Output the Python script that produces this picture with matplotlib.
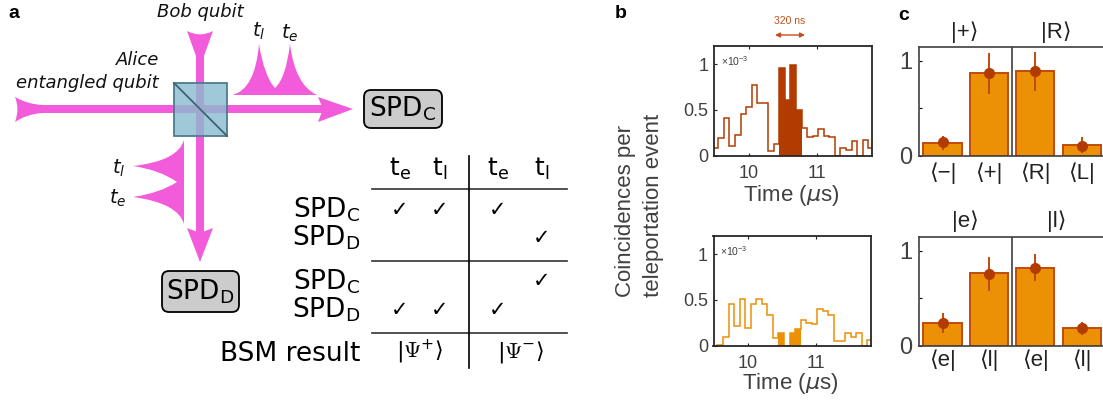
import numpy as np
import matplotlib
matplotlib.use('Agg')
import matplotlib.pyplot as plt
from matplotlib.patches import PathPatch, Polygon, Rectangle, FancyBboxPatch
from matplotlib.path import Path

plt.rcParams['font.family'] = ['DejaVu Sans']
plt.rcParams['mathtext.default'] = 'regular'

W, H = 1103, 401
ARIAL = ['Liberation Sans', 'DejaVu Sans']
PINK = '#F25BD9'
DARK = '#B23C00'
ORANGE = '#EC9006'
BAR_EDGE = '#C04A0C'
GRAY = '#404040'

# histogram data, panel b (units of 1e-3)
bin_start = 9.467
bin_width = 0.0817
hist_top = [0.08, 0.19, 0.41, 0.11, 0.23, 0.46, 0.53, 0.77, 0.58, 0.58, 0.05, 0.13,
            0.96, 0.61, 0.99, 0.50,
            0.30, 0.20, 0.21, 0.29, 0.22, 0.20, 0.0, 0.08, 0.06, 0.16, 0.0, 0.17, 0.08]
hist_bottom = [0.0, 0.01, 0.09, 0.46, 0.22, 0.51, 0.19, 0.46, 0.51, 0.46, 0.33, 0.08,
               0.14, 0.0, 0.14, 0.18,
               0.28, 0.25, 0.24, 0.40, 0.38, 0.33, 0.05, 0.05, 0.14, 0.09, 0.14, 0.0, 0.06]
window = (12, 16)

# bar data, panel c
labels_top = ['⟨−|', '⟨+|', '⟨R|', '⟨L|']
bars_top = [0.137, 0.874, 0.895, 0.112]
points_top = [0.14, 0.867, 0.89, 0.105]
err_low_top = [0.06, 0.649, 0.684, 0.03]
err_high_top = [0.207, 1.084, 1.095, 0.193]

labels_bottom = ['⟨e|', '⟨l|', '⟨e|', '⟨l|']
bars_bottom = [0.242, 0.765, 0.82, 0.186]
points_bottom = [0.235, 0.758, 0.814, 0.182]
err_low_bottom = [0.137, 0.579, 0.677, 0.112]
err_high_bottom = [0.347, 0.937, 0.961, 0.253]

fig = plt.figure(figsize=(W / 100, H / 100), dpi=100)


def axes_px(left, top, right, bottom):
    return fig.add_axes([left / W, 1 - bottom / H, (right - left) / W, (bottom - top) / H])


def fill_path(ax, verts, codes, color, z=2):
    ax.add_patch(PathPatch(Path(verts, codes), fc=color, ec='none', zorder=z))


# ---------- overlay in pixel coordinates for panel a and the labels ----------
bg = fig.add_axes([0, 0, 1, 1])
bg.set_xlim(0, W)
bg.set_ylim(H, 0)
bg.axis('off')

M, L, C, Z = Path.MOVETO, Path.LINETO, Path.CURVE3, Path.CLOSEPOLY

# beams
bg.add_patch(Rectangle((35, 105), 290, 8, fc=PINK, ec='none', zorder=2))
bg.add_patch(Rectangle((196, 50), 8, 190, fc=PINK, ec='none', zorder=2))
# fletchings and heads
fill_path(bg, [(15, 97), (27, 104), (42, 105), (42, 113), (27, 114), (15, 122), (20, 109), (15, 97), (15, 97)],
          [M, C, C, L, C, C, C, C, Z], PINK)
bg.add_patch(Polygon([(318, 97), (353, 109), (318, 122), (323, 109)], fc=PINK, ec='none', zorder=2))
fill_path(bg, [(187, 31), (200, 38), (213, 31), (204, 56), (196, 56), (187, 31)],
          [M, C, C, L, L, L], PINK)
bg.add_patch(Polygon([(187, 228), (200, 233), (213, 228), (200, 262)], fc=PINK, ec='none', zorder=2))

# pulses, upper right
fill_path(bg, [(232, 95), (255, 90), (259, 44), (264, 76), (275, 88),
               (286, 78), (290, 44), (295, 85), (317, 95), (232, 95)],
          [M, C, C, C, C, C, C, C, C, L], PINK)
# pulses, lower left
fill_path(bg, [(184, 140), (178, 161), (133, 166), (160, 170), (177, 182),
               (160, 193), (133, 197), (178, 203), (184, 224), (184, 140)],
          [M, C, C, C, C, C, C, C, C, L], PINK)

# beam splitter
bg.add_patch(Rectangle((174, 83), 53, 53, fc='#9FC8D8', ec='none', zorder=3))
bg.add_patch(Rectangle((196, 83), 8, 53, fc='#9FA9CF', ec='none', zorder=3))
bg.add_patch(Rectangle((174, 105), 53, 8, fc='#9FA9CF', ec='none', zorder=3))
bg.add_patch(Rectangle((174, 83), 53, 53, fc='none', ec='#4E7C8E', lw=1.3, zorder=4))
bg.plot([174, 227], [83, 136], color='#3F6474', lw=1.3, zorder=4)

# detectors
for x0, x1, y0, y1, name in [(364, 442, 90, 128, 'C'), (162, 239, 271, 312, 'D')]:
    bg.add_patch(FancyBboxPatch((x0 + 6, y0 + 6), x1 - x0 - 12, y1 - y0 - 12, boxstyle='round,pad=6,rounding_size=7',
                                fc='#CCCCCC', ec='black', lw=1.3, zorder=3))
    bg.text((x0 + x1) / 2, (y0 + y1) / 2, 'SPD$_{%s}$' % name, fontsize=19, ha='center', va='center', zorder=4)

# diagram labels
it = dict(style='italic', fontsize=13, color='#111111')
bg.text(200, 12, 'Bob qubit', ha='center', va='center', **it)
bg.text(159, 60, 'Alice', ha='right', va='center', **it)
bg.text(159, 83, 'entangled qubit', ha='right', va='center', **it)
for x, y, s in [(259, 31, 'l'), (290, 33, 'e'), (119, 168, 'l'), (118, 198, 'e')]:
    bg.text(x, y, r'$\mathit{t_{%s}}$' % s, fontsize=14, ha='center', va='center', color='#111111')

# table
for y in (189, 261, 333):
    bg.plot([372, 567], [y, y], color='#333333', lw=1.2)
bg.plot([469, 469], [156, 368], color='black', lw=1.2)
columns = [400, 440, 498, 542]
for x, s in zip(columns, 'elel'):
    bg.text(x, 169, 't$_{%s}$' % s, fontsize=18, ha='center', va='center')
for y, s in [(217, 'C'), (245, 'D'), (289, 'C'), (317, 'D')]:
    bg.text(360, y, 'SPD$_{%s}$' % s, fontsize=19, ha='right', va='baseline')
checks = [(210, [0, 1, 2]), (238, [3]), (281, [3]), (310, [0, 1, 2])]
for y, cols in checks:
    for c in cols:
        bg.text(columns[c], y, '✓', fontsize=15, ha='center', va='center')
bg.text(360, 361, 'BSM result', fontsize=19, ha='right', va='baseline')
bg.text(420, 352, r'$|\mathrm{\Psi}^{+}\rangle$', fontsize=16, math_fontfamily='cm', ha='center', va='center')
bg.text(521, 352, r'$|\mathrm{\Psi}^{-}\rangle$', fontsize=16, math_fontfamily='cm', ha='center', va='center')

# panel letters
for x, y, s in [(14, 14, 'a'), (621, 14, 'b'), (904, 16, 'c')]:
    bg.text(x, y, s, family=ARIAL, fontsize=14, fontweight='bold', ha='center', va='center')

for x, s in [(626, 'Coincidences per'), (654, 'teleportation event')]:
    bg.text(x, 297, s, family=ARIAL, fontsize=16, color=GRAY, rotation=90, ha='center', va='bottom')

# ---------- panel b ----------
edges = bin_start + bin_width * np.arange(len(hist_top) + 1)


def hist_panel(box, values, color, xlabel_y):
    ax = axes_px(*box)
    ax.stairs(values, edges, color=color, lw=1.1, zorder=2)
    a, b = window
    ax.stairs(values[a:b], edges[a:b + 1], color=color, fill=True, lw=0, zorder=3)
    ax.set_xlim(9.49, 11.81)
    ax.set_ylim(0, 1.2)
    ax.set_xticks([10, 11])
    ax.set_yticks([0, 0.5, 1])
    ax.set_yticklabels(['0', '0.5', '1'])
    ax.tick_params(direction='in', length=2, width=0.8, top=True, labelsize=13, labelcolor=GRAY,
                   color='#222222', pad=4)
    ax.tick_params(axis='x', pad=7)
    for t in ax.get_xticklabels() + ax.get_yticklabels():
        t.set_family(ARIAL)
    for s in ax.spines.values():
        s.set_linewidth(1.3)
        s.set_color('#262626')
        s.set_zorder(5)
    ax.text(0.04, 0.86, r'$\times$10$^{-3}$', transform=ax.transAxes, fontsize=7.5, color=GRAY,
            family=ARIAL, va='center')
    bg.text((box[0] + box[2]) / 2 - 2, xlabel_y, r'Time ($\mathit{\mu}$s)', family=ARIAL, fontsize=16,
            color=GRAY, ha='center', va='center')
    return ax


hist_panel((714.3, 45.7, 872, 155.7), hist_top, DARK, 195)
hist_panel((713.5, 235.7, 871, 345.7), hist_bottom, ORANGE, 384)

bg.text(790, 21, '320 ns', family=ARIAL, fontsize=7.5, color='#C2501E', ha='center', va='center')
bg.annotate('', xy=(805, 35), xytext=(775, 35),
            arrowprops=dict(arrowstyle='<|-|>', color='#C2501E', lw=1, mutation_scale=7, shrinkA=0, shrinkB=0))


# ---------- panel c ----------
def bar_panel(box, labels, bars, points, low, high, label_pad):
    ax = axes_px(*box)
    x = np.arange(1, 5)
    ax.bar(x, bars, width=0.82, color=ORANGE, edgecolor=BAR_EDGE, lw=1.4, zorder=2)
    ax.vlines(x, low, high, color=BAR_EDGE, lw=1.4, zorder=3)
    ax.plot(x, points, 'o', color=DARK, ms=8, mew=0, zorder=4)
    ax.axvline(2.5, color=GRAY, lw=1.2, zorder=1)
    ax.set_xlim(0.5, 4.5)
    ax.set_ylim(0, 1.147)
    ax.set_xticks(x)
    ax.set_xticklabels(labels, family=ARIAL, fontsize=16, color='#222222')
    ax.set_yticks([0, 0.5, 1])
    ax.set_yticklabels(['0', '', '1'], family=ARIAL, fontsize=17, color=GRAY)
    ax.tick_params(axis='x', length=0, pad=label_pad)
    ax.tick_params(axis='y', direction='in', length=2, width=0.8, pad=5)
    for s in ax.spines.values():
        s.set_linewidth(1.2)
        s.set_color(GRAY)
    return ax


bar_panel((919.3, 46.7, 1105, 155.7), labels_top, bars_top, points_top, err_low_top, err_high_top, 5)
bar_panel((919.3, 236.7, 1105, 345.7), labels_bottom, bars_bottom, points_bottom, err_low_bottom, err_high_bottom, 3)

for x, y, s in [(965, 32, '|+⟩'), (1056, 32, '|R⟩'), (965, 221, '|e⟩'), (1057, 221, '|l⟩')]:
    bg.text(x, y, s, family=ARIAL, fontsize=16, color='#222222', ha='center', va='center')

fig.savefig('out.png', dpi=100)
